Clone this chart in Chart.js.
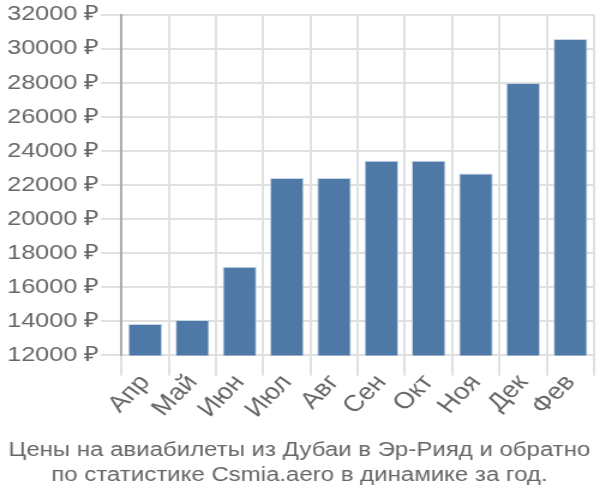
<!DOCTYPE html>
<html>
<head>
<meta charset="utf-8">
<script src="https://cdn.jsdelivr.net/npm/chart.js@4"></script>
<style>
  body { margin: 0; background: #fff; overflow: hidden; }
  /* the reference is drawn at 500px wide and stretched to 600px */
  #wrap { width: 500px; height: 500px; transform: scaleX(1.2); transform-origin: 0 0; }
</style>
</head>
<body>
<div id="wrap"><canvas id="chart" width="500" height="500"></canvas></div>
<script>
const months = ["Апр", "Май", "Июн", "Июл", "Авг", "Сен", "Окт", "Ноя", "Дек", "Фев"];
const prices = [13850, 14080, 17210, 22410, 22410, 23430, 23430, 22680, 27980, 30570];
const titleLines = [
  "Цены на авиабилеты из Дубаи в Эр-Рияд и обратно",
  "по статистике Csmia.aero в динамике за год."
];

const fontFamily = "'Liberation Sans', Arial, sans-serif";
const textColor = "#666";

new Chart(document.getElementById("chart").getContext("2d"), {
  type: "bar",
  data: {
    labels: months,
    datasets: [{
      data: prices,
      backgroundColor: "#4e79a7",
      borderColor: "#c9d6e6",
      borderWidth: 1,
      barPercentage: 0.72,
      categoryPercentage: 1
    }]
  },
  options: {
    responsive: false,
    animation: false,
    layout: { padding: { left: 4, right: 5, top: 4, bottom: 12 } },
    plugins: {
      legend: { display: false },
      tooltip: { enabled: false },
      title: {
        display: true,
        position: "bottom",
        text: titleLines,
        color: textColor,
        font: { family: fontFamily, size: 20, weight: "normal", lineHeight: 1.25 },
        padding: { top: 21, bottom: 0 }
      }
    },
    scales: {
      x: {
        grid: { color: "#e0e0e0", lineWidth: 2, tickLength: 20, offset: true },
        border: { color: "#e0e0e0", width: 2 },
        ticks: {
          color: textColor,
          font: { family: fontFamily, size: 23 },
          minRotation: 50,
          maxRotation: 50,
          autoSkip: false,
          padding: -6
        }
      },
      y: {
        min: 12000,
        max: 32000,
        grid: { color: "#e0e0e0", lineWidth: 2, tickLength: 17 },
        border: { color: "#aaa", width: 2 },
        ticks: {
          stepSize: 2000,
          color: textColor,
          font: { family: fontFamily, size: 21 },
          padding: 2,
          callback: function (value) {
            return value + " ₽";
          }
        }
      }
    }
  }
});
</script>
</body>
</html>
